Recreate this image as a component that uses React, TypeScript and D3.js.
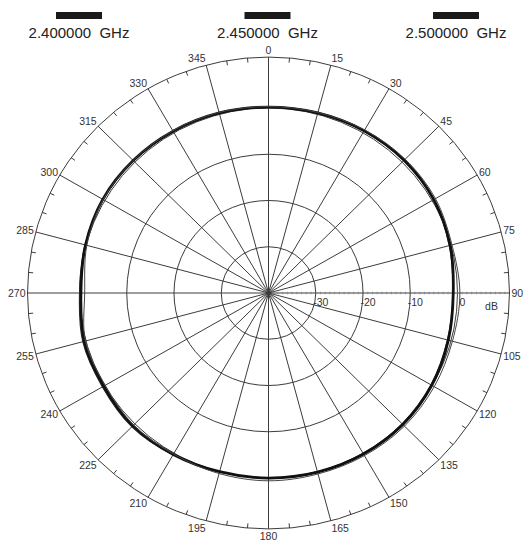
import React, { useRef, useEffect } from 'react';
import * as d3 from 'd3';

// azimuth (deg) of every sample, and gain (dB) per frequency
const angles = [0, 15, 30, 45, 60, 75, 90, 105, 120, 135, 150, 165, 180, 195, 210, 225, 240, 255, 270, 285, 300, 315, 330, 345];
const gain2400 = [0.1, 0.2, 0.4, 0.5, 0.3, -0.4, -1.0, -0.8, -0.3, 0.0, 0.1, 0.0, -0.1, 0.0, 0.4, 0.9, 0.6, 0.7, 0.0, 0.2, 0.4, 0.4, 0.3, 0.2];
const gain2450 = [0.2, 0.3, 0.5, 0.6, 0.4, -0.2, -0.9, -0.6, -0.1, 0.2, 0.2, 0.1, 0.0, 0.0, 0.3, 0.6, 0.3, 0.4, -0.3, 0.1, 0.5, 0.5, 0.4, 0.3];
const gain2500 = [0.3, 0.4, 0.7, 0.9, 0.8, 0.2, 0.5, 0.3, 0.5, 0.7, 0.6, 0.5, 0.6, 0.4, 0.2, 0.4, -0.1, 0.1, -1.1, -0.2, 0.4, 0.5, 0.5, 0.4];

const freqLabels = ['2.400000  GHz', '2.450000  GHz', '2.500000  GHz'];
const ringLevels = [-30, -20, -10, 0];
const ringLabels = ['-30', '-20', '-10', '0'];
const angleLabels = ['0', '15', '30', '45', '60', '75', '90', '105', '120', '135', '150', '165', '180', '195', '210', '225', '240', '255', '270', '285', '300', '315', '330', '345'];

const series = [
  { name: freqLabels[0], values: gain2400, width: 1.1, color: '#333' },
  { name: freqLabels[1], values: gain2450, width: 2.8, color: '#111' },
  { name: freqLabels[2], values: gain2500, width: 1.0, color: '#444' },
];

const App: React.FC = () => {
  const svgRef = useRef<SVGSVGElement | null>(null);

  useEffect(() => {
    if (!svgRef.current) return;
    const width = 531;
    const height = 541;
    const svg = d3.select(svgRef.current);
    svg.selectAll('*').remove();
    svg.attr('width', width).attr('height', height);

    const cx = 268.5;
    const cy = 293;
    const yRatio = 0.979; // scan is a bit squashed vertically
    const outerDb = 11;
    const rX = d3.scaleLinear().domain([-40, 0]).range([0, 189]);
    const font = '"Liberation Sans", Arial, sans-serif';

    const polar = (deg: number, db: number): [number, number] => {
      const a = (deg * Math.PI) / 180;
      return [cx + rX(db) * Math.sin(a), cy - rX(db) * yRatio * Math.cos(a)];
    };

    svg.append('rect').attr('width', width).attr('height', height).attr('fill', '#fff');

    const grid = svg.append('g').attr('stroke', '#3c3c3c').attr('fill', 'none').attr('stroke-width', 1);

    // rings
    grid.selectAll('ellipse')
      .data([...ringLevels, outerDb])
      .join('ellipse')
      .attr('cx', cx)
      .attr('cy', cy)
      .attr('rx', d => rX(d))
      .attr('ry', d => rX(d) * yRatio);

    // spokes
    grid.selectAll('line.spoke')
      .data(angles)
      .join('line')
      .attr('class', 'spoke')
      .attr('x1', cx)
      .attr('y1', cy)
      .attr('x2', d => polar(d, outerDb)[0])
      .attr('y2', d => polar(d, outerDb)[1]);

    // 5 degree ticks on outer ring, pointing inward
    const minor = angles.flatMap(a => [a + 5, a + 10]);
    grid.selectAll('line.minor')
      .data(minor)
      .join('line')
      .attr('class', 'minor')
      .attr('x1', d => polar(d, outerDb)[0])
      .attr('y1', d => polar(d, outerDb)[1])
      .attr('x2', d => polar(d, outerDb - 1)[0])
      .attr('y2', d => polar(d, outerDb - 1)[1]);

    // dB ticks along the 90 deg axis
    grid.selectAll('line.dbtick')
      .data(d3.range(-39, outerDb))
      .join('line')
      .attr('class', 'dbtick')
      .attr('x1', d => polar(90, d)[0])
      .attr('x2', d => polar(90, d)[0])
      .attr('y1', cy - 1.3)
      .attr('y2', cy + 1.3)
      .attr('stroke', '#777')
      .attr('stroke-width', 0.6);

    // traces
    const line = d3.line<[number, number]>()
      .x(d => polar(d[0], d[1])[0])
      .y(d => polar(d[0], d[1])[1])
      .curve(d3.curveCatmullRomClosed);

    svg.append('g')
      .selectAll('path')
      .data(series)
      .join('path')
      .attr('d', s => line(angles.map((a, i) => [a, s.values[i]] as [number, number])))
      .attr('fill', 'none')
      .attr('stroke', s => s.color)
      .attr('stroke-width', s => s.width);

    // angle labels
    const rOut = rX(outerDb);
    svg.append('g')
      .selectAll('text')
      .data(angles)
      .join('text')
      .attr('x', (d) => cx + (rOut + 2) * Math.sin((d * Math.PI) / 180))
      .attr('y', (d) => cy - (rOut * yRatio + 7) * Math.cos((d * Math.PI) / 180))
      .attr('text-anchor', d => (d === 0 || d === 180 ? 'middle' : d < 180 ? 'start' : 'end'))
      .attr('dominant-baseline', 'central')
      .style('font-family', font)
      .style('font-size', '10.5px')
      .style('fill', '#333')
      .text((_, i) => angleLabels[i]);

    // dB ring labels
    const dbLab = svg.append('g')
      .style('font-family', font)
      .style('font-size', '10.5px')
      .style('fill', '#333');
    dbLab.selectAll('text')
      .data(ringLevels)
      .join('text')
      .attr('x', d => rX(d) + cx + 5)
      .attr('y', cy + 13)
      .attr('text-anchor', 'middle')
      .text((_, i) => ringLabels[i]);
    dbLab.append('text')
      .attr('x', cx + rX(0) + 34)
      .attr('y', cy + 17)
      .attr('text-anchor', 'middle')
      .text('dB');

    // legend
    const legendX = d3.scalePoint<string>().domain(freqLabels).range([79, 456]);
    const legend = svg.append('g')
      .selectAll('g')
      .data(freqLabels)
      .join('g')
      .attr('transform', d => `translate(${legendX(d)},0)`);
    legend.append('rect')
      .attr('x', -23)
      .attr('y', 12)
      .attr('width', 46)
      .attr('height', 7)
      .attr('fill', '#1a1a1a');
    legend.append('text')
      .attr('y', 38)
      .attr('text-anchor', 'middle')
      .style('font-family', font)
      .style('font-size', '15px')
      .style('white-space', 'pre')
      .style('fill', '#222')
      .text(d => d);
  }, []);

  return (
    <svg ref={svgRef} style={{ position: 'absolute', left: 0, top: 0, display: 'block' }}></svg>
  );
};

export default App;
